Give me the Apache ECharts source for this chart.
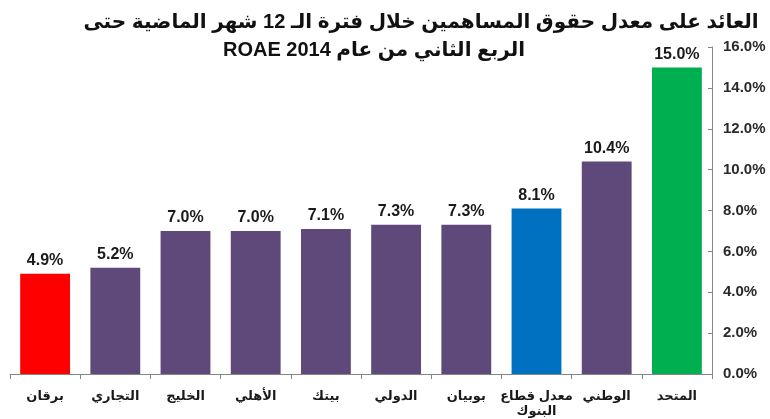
<!DOCTYPE html>
<html>
<head>
    <meta charset="utf-8">
    <title>ROAE 2014</title>
    <script src="https://cdn.jsdelivr.net/npm/echarts@6/dist/echarts.min.js"></script>
    <style>
        html, body { margin: 0; padding: 0; background: #fff; }
    </style>
</head>
<body>
<div id="main" style="width: 770px;height:419px;"></div>
<script type="text/javascript">
    // data
    var titleLines = [
        'العائد على معدل حقوق المساهمين خلال فترة الـ 12 شهر الماضية حتى',
        'الربع الثاني من عام ROAE 2014'
    ];
    var categories = ['برقان', 'التجاري', 'الخليج', 'الأهلي', 'بيتك', 'الدولي', 'بوبيان', 'معدل قطاع\nالبنوك', 'الوطني', 'المتحد'];
    var values = [4.9, 5.2, 7.0, 7.0, 7.1, 7.3, 7.3, 8.1, 10.4, 15.0];

    // colours per bar (red = lowest, blue = sector average, green = highest)
    var barColors = ['#ff0000', '#5f497a', '#5f497a', '#5f497a', '#5f497a', '#5f497a', '#5f497a', '#0070c0', '#5f497a', '#00b050'];

    var FONT = "'Liberation Sans', 'DejaVu Sans', sans-serif";
    var RLE = '\u202B', PDF = '\u202C';   // force right-to-left paragraph for the title

    var myChart = echarts.init(document.getElementById('main'));

    var option = {
        animation: false,
        backgroundColor: '#fff',
        textStyle: { fontFamily: FONT },
        graphic: [
            {
                type: 'text', x: 421, y: 22,
                style: {
                    text: RLE + titleLines[0] + PDF,
                    align: 'center', verticalAlign: 'middle',
                    font: 'bold 20px ' + FONT, fill: '#111'
                }
            },
            {
                type: 'text', x: 374, y: 50,
                style: {
                    text: RLE + titleLines[1] + PDF,
                    align: 'center', verticalAlign: 'middle',
                    font: 'bold 20px ' + FONT, fill: '#111'
                }
            }
        ],
        grid: { left: 10, right: 58, top: 47, bottom: 44 },
        xAxis: {
            type: 'category',
            data: categories,
            axisLine: { lineStyle: { color: '#868686' } },
            axisTick: { show: true, length: 5, lineStyle: { color: '#868686' } },
            axisLabel: {
                interval: 0, margin: 15,
                fontSize: 13, fontWeight: 'bold', color: '#1a1a1a',
                lineHeight: 15
            }
        },
        yAxis: {
            type: 'value',
            position: 'right',
            min: 0, max: 16, interval: 2,
            splitLine: { show: false },
            axisLine: { show: true, lineStyle: { color: '#868686' } },
            axisTick: { show: true, inside: true, length: 4, lineStyle: { color: '#868686' } },
            axisLabel: {
                margin: 11,
                fontSize: 15, fontWeight: 'bold', color: '#2a2a2a',
                formatter: function (v) { return v.toFixed(1) + '%'; }
            }
        },
        series: [
            {
                type: 'bar',
                barCategoryGap: '29%',
                data: values.map(function (v, i) {
                    return { value: v, itemStyle: { color: barColors[i] } };
                }),
                label: {
                    show: true, position: 'top', distance: 5,
                    fontSize: 16, fontWeight: 'bold', color: '#1a1a1a',
                    formatter: function (p) { return p.value.toFixed(1) + '%'; }
                }
            }
        ]
    };
    myChart.setOption(option);
</script>
</body>
</html>
